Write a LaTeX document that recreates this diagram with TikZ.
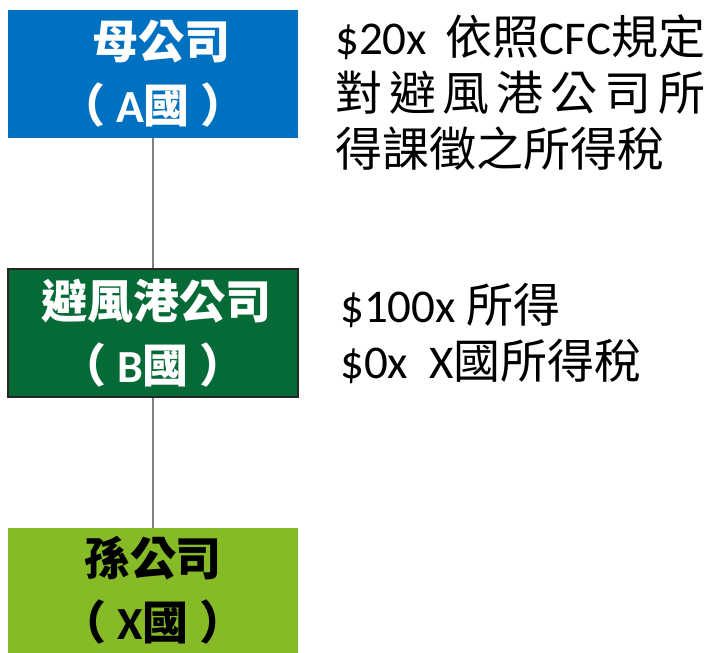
\documentclass[tikz,border=0pt]{standalone}
\usepackage{fontspec}
\setmainfont{Carlito}
\newfontfamily\cjk{Noto Sans CJK TC}
\newcommand\zh[1]{{\cjk #1}}
\newcommand\paren[1]{\zh{（}\hspace{11pt}#1\zh{國}\hspace{11pt}\zh{）}}
\definecolor{boxblue}{HTML}{0070C0}
\definecolor{boxdkgreen}{HTML}{066A37}
\definecolor{boxltgreen}{HTML}{86BA27}
\definecolor{linkgray}{HTML}{808080}
\tikzset{
  orgbox/.style={rectangle, minimum width=290pt, inner sep=0pt, align=center,
    font=\fontsize{46}{64}\selectfont\bfseries},
  link/.style={draw=linkgray, line width=1.5pt},
  note/.style={anchor=west, inner sep=0pt, align=left,
    font=\fontsize{47}{56}\selectfont}
}
\begin{document}
\begin{tikzpicture}[x=1pt,y=-1pt]
\useasboundingbox (0,0) rectangle (713,653);
\node[orgbox, fill=boxblue, text=white, minimum height=128pt] (a) at (153,74)
  {\hspace{18pt}\zh{母公司}\\\paren{A}};
\node[orgbox, fill=boxdkgreen, text=white, draw=black!85, line width=1.2pt, minimum height=128pt] (b) at (153,333)
  {\hspace{8pt}\zh{避風港公司}\\\paren{B}};
\node[orgbox, fill=boxltgreen, text=black, minimum height=125pt] (c) at (153,590.5)
  {\zh{孫公司}\\\paren{X}};
\draw[link] (a.south) -- (b.north);
\draw[link] (b.south) -- (c.north);
\node[note] (t1) at (335,93)
  {\hbox to 370pt{\$20x\hfill\zh{依照}CFC\zh{規定}}\\
   \hbox to 370pt{\zh{對}\hfill\zh{避}\hfill\zh{風}\hfill\zh{港}\hfill\zh{公}\hfill\zh{司}\hfill\zh{所}}\\
   \zh{得課徵之所得稅}};
\node[note] (t2) at (340,333)
  {\$100x \zh{所得}\\
   \$0x\ \ X\zh{國所得稅}};
\end{tikzpicture}
\end{document}
